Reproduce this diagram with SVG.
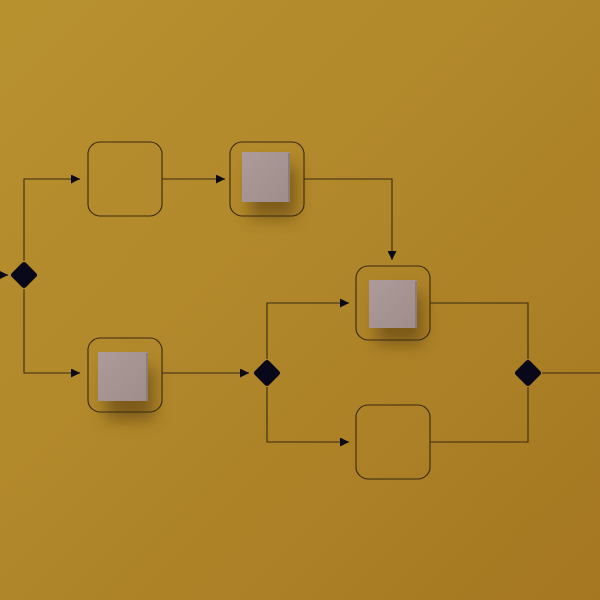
<svg xmlns="http://www.w3.org/2000/svg" width="600" height="600" viewBox="0 0 600 600">
<defs>
<linearGradient id="bg" x1="0" y1="0" x2="1" y2="1">
<stop offset="0" stop-color="#b8912f"/>
<stop offset="0.5" stop-color="#b0862a"/>
<stop offset="1" stop-color="#a47720"/>
</linearGradient>
<linearGradient id="cube" x1="0" y1="0" x2="1" y2="1">
<stop offset="0" stop-color="#ad9b9b"/>
<stop offset="1" stop-color="#9f8d8b"/>
</linearGradient>
<filter id="sh" x="-50%" y="-50%" width="200%" height="200%">
<feGaussianBlur stdDeviation="8"/>
</filter>
<marker id="ar" viewBox="0 0 10 10" refX="10" refY="5" markerWidth="9" markerHeight="9" markerUnits="userSpaceOnUse" orient="auto">
<path d="M0,0 L10,5 L0,10 Z" fill="#0a0a1a"/>
</marker>
</defs>
<style>
.box{fill:none;stroke:#3a2a12;stroke-width:1.1}
.ln{fill:none;stroke:#3a2a12;stroke-width:1.1}
.dia{fill:#08081a}
.cb{fill:url(#cube)}
.sh{fill:#5a3c08;opacity:0.6;filter:url(#sh)}
</style>
<rect width="600" height="600" fill="url(#bg)"/>
<g id="connectors">
<path class="ln" d="M0,275 L8,275" marker-end="url(#ar)"/>
<path class="ln" d="M24,261 L24,179 L80,179" marker-end="url(#ar)"/>
<path class="ln" d="M24,289 L24,373 L80,373" marker-end="url(#ar)"/>
<path class="ln" d="M162,179 L225,179" marker-end="url(#ar)"/>
<path class="ln" d="M304,179 L392,179 L392,260" marker-end="url(#ar)"/>
<path class="ln" d="M162,373 L249,373" marker-end="url(#ar)"/>
<path class="ln" d="M267,359 L267,303 L349,303" marker-end="url(#ar)"/>
<path class="ln" d="M267,387 L267,442 L349,442" marker-end="url(#ar)"/>
<path class="ln" d="M430,303 L528,303 L528,359"/>
<path class="ln" d="M430,442 L528,442 L528,387"/>
<path class="ln" d="M542,373 L600,373"/>
</g>
<g id="gw1"><rect class="dia" x="14" y="265" width="20" height="20" rx="3" transform="rotate(45 24 275)"/></g>
<g id="gw2"><rect class="dia" x="257" y="363" width="20" height="20" rx="3" transform="rotate(45 267 373)"/></g>
<g id="gw3"><rect class="dia" x="518" y="363" width="20" height="20" rx="3" transform="rotate(45 528 373)"/></g>
<g id="task1"><rect class="box" x="88" y="142" width="74" height="74" rx="12"/></g>
<g id="task2">
<rect class="sh" x="250" y="166" width="46" height="52"/>
<rect class="box" x="230" y="142" width="74" height="74" rx="12"/>
<rect class="cb" x="242" y="152" width="48" height="50"/>
<rect x="288" y="153" width="2" height="49" fill="#8e7c78"/>
</g>
<g id="task3">
<rect class="sh" x="377" y="294" width="46" height="50"/>
<rect class="box" x="356" y="266" width="74" height="74" rx="12"/>
<rect class="cb" x="369" y="280" width="48" height="48"/>
<rect x="415" y="281" width="2" height="47" fill="#8e7c78"/>
</g>
<g id="task4">
<rect class="sh" x="106" y="368" width="48" height="52"/>
<rect class="box" x="88" y="338" width="74" height="74" rx="12"/>
<rect class="cb" x="98" y="352" width="50" height="49"/>
<rect x="146" y="353" width="2" height="48" fill="#8e7c78"/>
</g>
<g id="task5"><rect class="box" x="356" y="405" width="74" height="74" rx="12"/></g>
</svg>
